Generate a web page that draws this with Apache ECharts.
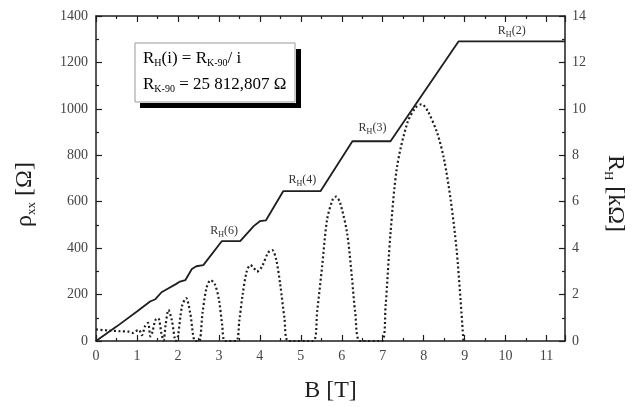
<!DOCTYPE html>
<html>
<head>
<meta charset="utf-8">
<script src="https://cdn.jsdelivr.net/npm/echarts@6/dist/echarts.min.js"></script>
<style>
  html, body { margin: 0; padding: 0; background: #fff; }
  #main { width: 634px; height: 407px; }
</style>
</head>
<body>
<div id="main"></div>
<script>
var chart = echarts.init(document.getElementById('main'));

// Hall resistance R_H [kOhm] vs B [T] (solid, right axis)
var hallB = [0, 0.5, 1.0, 1.32, 1.45, 1.6, 1.75, 1.95, 2.05, 2.18, 2.34, 2.45, 2.62, 3.07, 3.52, 3.85, 4.0, 4.15, 4.57, 5.48, 6.26, 7.19, 8.85, 11.45];
var hallR = [0, 0.62, 1.27, 1.7, 1.8, 2.1, 2.25, 2.45, 2.56, 2.62, 3.1, 3.22, 3.27, 4.3, 4.3, 4.95, 5.16, 5.2, 6.453, 6.453, 8.604, 8.604, 12.906, 12.906];

// longitudinal resistivity rho_xx [Ohm] vs B [T] (dotted, left axis)
var rhoB = [0, 0.3, 0.6, 0.8, 0.9, 1.0, 1.05, 1.12, 1.2, 1.27, 1.33, 1.38, 1.45, 1.52, 1.6, 1.65, 1.7, 1.77, 1.85, 1.95, 2.0, 2.1, 2.2, 2.3, 2.42, 2.52, 2.6, 2.7, 2.8, 2.9, 3.0, 3.08, 3.15, 3.42, 3.5, 3.58, 3.68, 3.77, 3.85, 3.93, 4.05, 4.2, 4.3, 4.4, 4.5, 4.6, 4.7, 5.3, 5.4, 5.52, 5.64, 5.78, 5.86, 5.96, 6.13, 6.25, 6.33, 6.45, 6.98, 7.07, 7.19, 7.35, 7.6, 7.8, 7.95, 8.1, 8.33, 8.5, 8.66, 8.8, 8.9, 8.97];
var rhoV = [50, 45, 42, 40, 35, 45, 48, 25, 65, 78, 20, 40, 90, 98, 30, 2, 70, 134, 90, 0, 20, 150, 185, 120, 0, 0, 120, 230, 262, 245, 180, 70, 0, 0, 90, 200, 300, 327, 315, 299, 320, 380, 392, 350, 240, 100, 0, 0, 130, 320, 521, 610, 622, 595, 465, 270, 120, 0, 0, 150, 465, 751, 939, 1005, 1020, 990, 896, 780, 607, 400, 177, 0];

// plateau annotations: [B, R_H kOhm, index label]
var plateauB = [10.15, 6.75, 5.04, 3.13];
var plateauR = [13.35, 9.2, 6.95, 4.75];
var plateauI = ['2', '3', '4', '6'];

var hallData = hallB.map(function (b, i) { return [b, hallR[i]]; });
var rhoData = rhoB.map(function (b, i) { return [b, rhoV[i]]; });
var marks = plateauB.map(function (b, i) {
    return { coord: [b, plateauR[i]], label: { formatter: '{r|R}{s|H}{r|(' + plateauI[i] + ')}' } };
});

var ink = '#1e1e1e';
var serif = 'Liberation Serif';
var plain = function (v) { return String(v); };
var tickFont = { fontFamily: serif, fontSize: 14, color: '#444', formatter: plain };
var subRich = {
    r: { fontFamily: serif, fontSize: 12, color: '#333' },
    s: { fontFamily: serif, fontSize: 8, color: '#333', padding: [8, 0, 0, 0] }
};
var nameRich = {
    a: { fontFamily: serif, fontSize: 24, color: ink },
    s: { fontFamily: serif, fontSize: 13, color: ink, padding: [13, 0, 0, 0] }
};
var axLine = { show: true, onZero: false, lineStyle: { color: ink, width: 1.5 } };
var tick = { show: true, inside: true, length: 6, lineStyle: { color: ink, width: 1.2 } };
var minor = { show: true, splitNumber: 2, length: 3, lineStyle: { color: ink, width: 1.2 } };

chart.setOption({
    backgroundColor: '#fff',
    animation: false,
    grid: { left: 96, right: 69, top: 16, bottom: 66, outerBoundsMode: 'none', containLabel: false },
    xAxis: [{
        type: 'value', min: 0, max: 11.45, interval: 1,
        name: 'B [T]', nameLocation: 'middle', nameGap: 38,
        nameTextStyle: { fontFamily: serif, fontSize: 24, color: ink },
        axisLine: axLine, axisTick: tick, minorTick: minor,
        axisLabel: Object.assign({ margin: 8, showMaxLabel: false }, tickFont),
        splitLine: { show: false }
    }, {
        type: 'value', min: 0, max: 11.45, interval: 1, position: 'top',
        axisLine: axLine, axisTick: tick, minorTick: minor,
        axisLabel: { show: false },
        splitLine: { show: false }
    }],
    yAxis: [{
        type: 'value', min: 0, max: 1400, interval: 200,
        name: '{a|ρ}{s|xx}{a| [Ω]}', nameLocation: 'middle', nameGap: 58, nameRotate: 90,
        nameTextStyle: { rich: nameRich, padding: [0, 32, 0, 0] },
        axisLine: axLine, axisTick: tick, minorTick: minor,
        axisLabel: Object.assign({ margin: 8 }, tickFont),
        splitLine: { show: false }
    }, {
        type: 'value', min: 0, max: 14, interval: 2, position: 'right',
        name: '{a|R}{s|H}{a| [kΩ]}', nameLocation: 'middle', nameGap: 37, nameRotate: -90,
        nameTextStyle: { rich: nameRich, padding: [0, 0, 0, 30] },
        axisLine: axLine, axisTick: tick, minorTick: minor,
        axisLabel: Object.assign({ margin: 7 }, tickFont),
        splitLine: { show: false }
    }],
    graphic: [
        { type: 'rect', shape: { x: 140, y: 103, width: 161, height: 5 }, style: { fill: '#000' }, z: 100 },
        { type: 'rect', shape: { x: 296, y: 49, width: 5, height: 59 }, style: { fill: '#000' }, z: 100 },
        { type: 'rect', shape: { x: 135, y: 43, width: 160, height: 59 }, style: { fill: '#fff', stroke: '#999', lineWidth: 1 }, z: 100 },
        {
            type: 'text', left: 143, top: 50, z: 101,
            style: {
                text: '{r|R}{s|H}{r|(i) = R}{s|K-90}{r|/ i}',
                rich: {
                    r: { fontFamily: serif, fontSize: 17, color: '#222' },
                    s: { fontFamily: serif, fontSize: 10, color: '#222', padding: [10, 0, 0, 0] }
                }
            }
        },
        {
            type: 'text', left: 143, top: 76, z: 101,
            style: {
                text: '{r|R}{s|K-90}{r| = 25 812,807 Ω}',
                rich: {
                    r: { fontFamily: serif, fontSize: 17, color: '#222' },
                    s: { fontFamily: serif, fontSize: 10, color: '#222', padding: [10, 0, 0, 0] }
                }
            }
        }
    ],
    series: [{
        type: 'line', xAxisIndex: 0, yAxisIndex: 0,
        data: rhoData, smooth: 0.3, showSymbol: false,
        lineStyle: { color: ink, width: 2.2, type: [2, 2.5] }
    }, {
        type: 'line', xAxisIndex: 0, yAxisIndex: 1,
        data: hallData, showSymbol: false,
        lineStyle: { color: ink, width: 1.8 },
        markPoint: {
            symbol: 'circle', symbolSize: 0,
            label: { show: true, position: 'inside', rich: subRich },
            data: marks
        }
    }]
});
</script>
</body>
</html>
